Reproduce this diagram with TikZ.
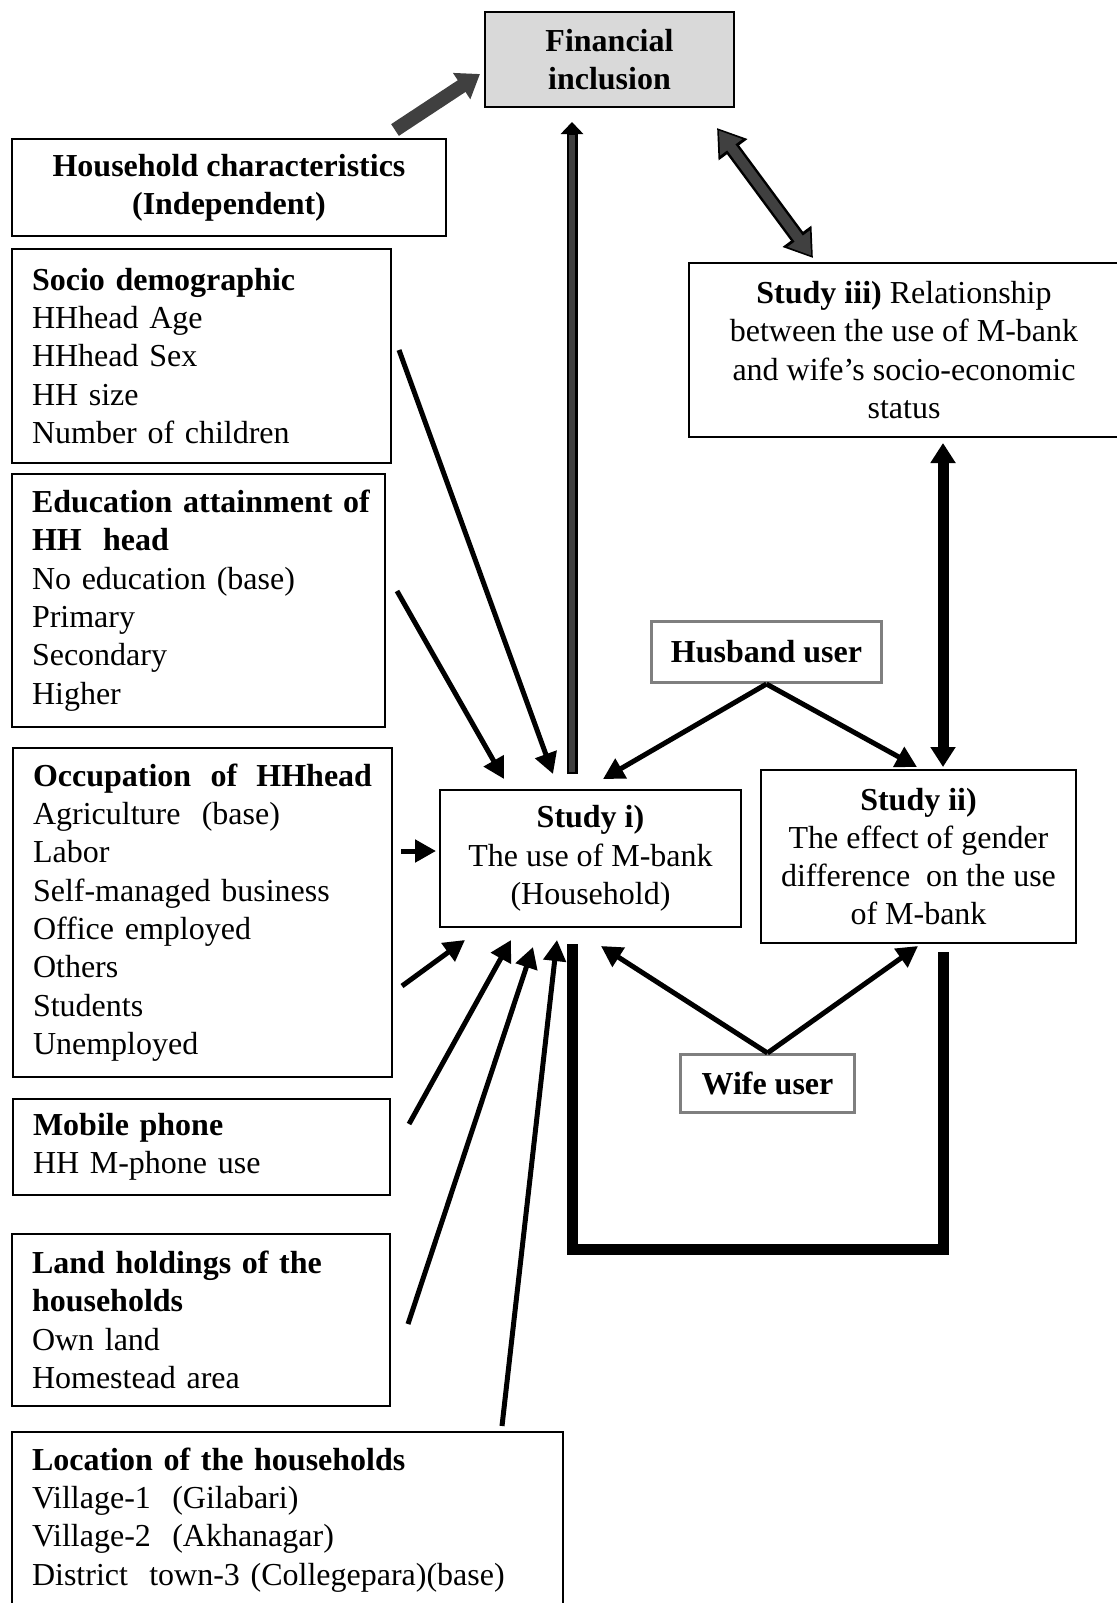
\documentclass[tikz,border=0pt]{standalone}
\usepackage{fontspec}
\setmainfont{Liberation Serif}
\usetikzlibrary{arrows.meta,calc}
\definecolor{fillgray}{HTML}{D9D9D9}
\definecolor{arrgray}{HTML}{404040}
\definecolor{bordergray}{HTML}{7F7F7F}
\begin{document}
\begin{tikzpicture}[x=1pt,y=-1pt,
  txt/.style={font=\fontsize{32}{38.3}\selectfont},
  box/.style={txt,draw=black,line width=2pt,anchor=north west,inner sep=0pt},
  leftbox/.style={box,align=left,inner xsep=20pt,inner ysep=2pt},
  cbox/.style={box,align=center},
  userbox/.style={box,draw=bordergray,line width=3pt,align=center},
  fan/.style={line width=5pt,-{Triangle[length=21pt,width=22pt]}},
  thickline/.style={line width=11pt,line join=miter},
  bothblack/.style={line width=11pt,{Triangle[length=20pt,width=24pt]}-{Triangle[length=20pt,width=24pt]}},
]
\useasboundingbox (0,0) rectangle (1116,1603);

% nodes
\node[cbox,fill=fillgray,minimum width=249,minimum height=95] (fi) at (484,11) {\textbf{Financial}\\\textbf{inclusion}};
\node[cbox,minimum width=434,minimum height=97] (hc) at (11,138) {\textbf{Household characteristics}\\\textbf{(Independent)}};
\node[leftbox,text width=339,minimum height=214] (socio) at (11,248)
  {\textbf{Socio demographic}\\HHhead Age\\HHhead Sex\\HH size\\Number of children};
\node[leftbox,text width=333,minimum height=253] (edu) at (11,473)
  {\mbox{\textbf{Education attainment of}}\\\textbf{HH\ \ head}\\No education (base)\\Primary\\Secondary\\Higher};
\node[leftbox,text width=339,minimum height=329] (occ) at (12,747)
  {\textbf{Occupation\hfill of\hfill HHhead}\\Agriculture\ \ (base)\\Labor\\Self-managed business\\Office employed\\Others\\Students\\Unemployed};
\node[leftbox,text width=337,minimum height=96] (mob) at (12,1098)
  {\textbf{Mobile phone}\\HH M-phone use};
\node[leftbox,text width=338,minimum height=172] (land) at (11,1233)
  {\textbf{Land holdings of the}\\\textbf{households}\\Own land\\Homestead area};
\node[leftbox,text width=511,minimum height=176] (loc) at (11,1431)
  {\textbf{Location of the households}\\Village-1\ \ (Gilabari)\\Village-2\ \ (Akhanagar)\\District\ \ town-3 (Collegepara)(base)};
\node[cbox,minimum width=301,minimum height=137] (s1) at (439,789)
  {\textbf{Study i)}\\The use of M-bank\\(Household)};
\node[cbox,minimum width=315,minimum height=173] (s2) at (760,769)
  {\textbf{Study ii)}\\The effect of gender\\difference\ \ on the use\\of M-bank};
\node[cbox,minimum width=430,minimum height=174] (s3) at (688,262)
  {\textbf{Study iii)} Relationship\\between the use of M-bank\\and wife’s socio-economic\\status};
\node[userbox,minimum width=230,minimum height=61] (hus) at (650,620) {\textbf{Husband user}};
\node[userbox,minimum width=174,minimum height=58] (wife) at (679,1053) {\textbf{Wife user}};

% household characteristics -> financial inclusion
\draw[arrgray,line width=14pt,-{Triangle[length=22pt,width=30pt]}]
  ($(hc.north east)+(-52,-8)$) -- ($(fi.south west)+(-4,-34)$);

% study i -> financial inclusion (outlined gray)
\draw[black,line width=11pt,-{Triangle[length=12pt,width=22pt]}]
  ($(s1.north west)+(133,-15)$) -- ($(fi.south west)+(88,14)$);
\draw[arrgray,line width=6pt]
  ($(s1.north west)+(133,-17)$) -- ($(fi.south west)+(88,27)$);

% financial inclusion <-> study iii (outlined gray)
\draw[black,line width=15pt,{Triangle[length=27pt,width=34pt]}-{Triangle[length=27pt,width=34pt]}]
  ($(fi.south east)+(-18,20)$) -- ($(s3.north west)+(125,-4)$);
\draw[arrgray,line width=10pt,{Triangle[length=21pt,width=26pt]}-{Triangle[length=21pt,width=26pt]},shorten <=3pt,shorten >=3pt]
  ($(fi.south east)+(-18,20)$) -- ($(s3.north west)+(125,-4)$);

% study iii <-> study ii
\draw[bothblack] ($(s3.south west)+(255,5)$) -- ($(s2.north west)+(183,-2)$);

% fan arrows into study i
\draw[fan] ($(socio.north east)+(7,102)$) -- ($(s1.north west)+(114,-15)$);
\draw[fan] ($(edu.north east)+(11,118)$) -- ($(s1.north west)+(65,-10)$);
\draw[fan] ($(occ.north east)+(8,104)$) -- ($(s1.north west)+(-3,62)$);
\draw[fan] ($(occ.north east)+(9,239)$) -- ($(s1.south west)+(26,12)$);
\draw[fan] ($(mob.north east)+(18,26)$) -- ($(s1.south west)+(72,12)$);
\draw[fan] ($(land.north east)+(17,91)$) -- ($(s1.south west)+(94,19)$);
\draw[fan] ($(loc.north west)+(491,-5)$) -- ($(s1.south west)+(118,12)$);

% husband user
\draw[fan] (hus.south) -- ($(s1.north west)+(164,-10)$);
\draw[fan] (hus.south) -- ($(s2.north west)+(157,-2)$);

% wife user
\draw[fan] (wife.north) -- ($(s1.south west)+(162,18)$);
\draw[fan] (wife.north) -- ($(s2.south west)+(158,2)$);

% thick U connector
\draw[thickline] ($(s1.south west)+(133,16)$) -- ++(0,305) -| ($(s2.south west)+(183,8)$);
\end{tikzpicture}
\end{document}
